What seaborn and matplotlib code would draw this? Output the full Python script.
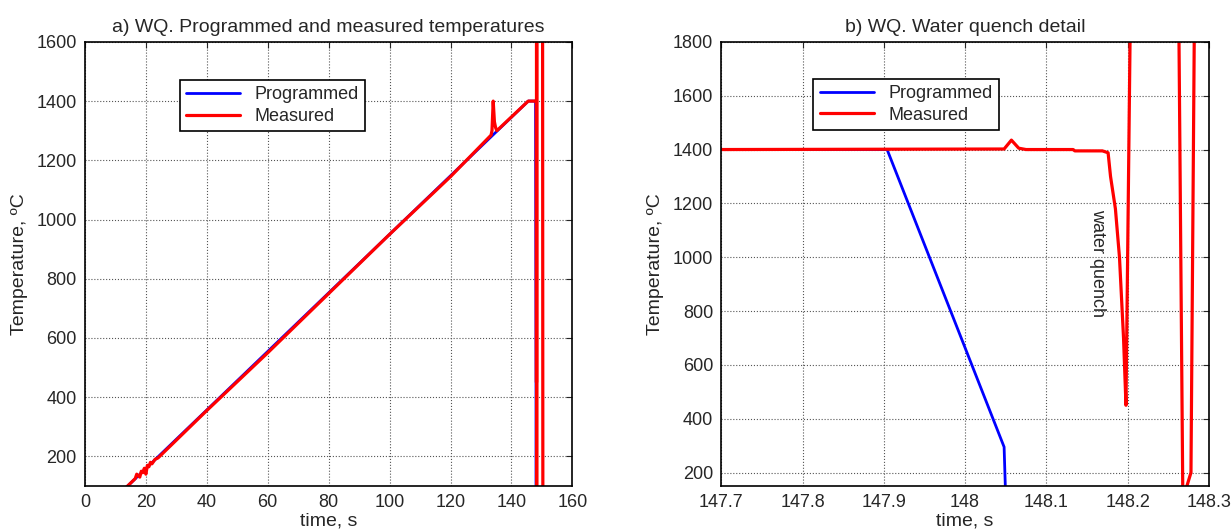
import numpy as np
import pandas as pd
import seaborn as sns
import matplotlib
matplotlib.use("Agg")
import matplotlib.pyplot as plt

# ---- panel a: full cycle ----
prog_a_t = [12, 145.5, 147.9, 148.05, 148.05]
prog_a_T = [80, 1400, 1400, 440, 50]

meas_a_t = [12, 15, 16.5, 17, 18, 18.5, 19, 19.5, 20, 20.5, 21, 21.5, 22, 23, 24,
            40, 60, 80, 100, 120, 133.3, 133.6, 134, 134.4, 134.8, 135.2, 145.5,
            148.18, 148.2, 148.21, 148.26, 148.27, 148.28, 150.2, 150.3]
meas_a_T = [80, 110, 125, 140, 130, 150, 145, 160, 140, 170, 165, 180, 175, 190, 195,
            355, 550, 750, 950, 1145, 1285, 1300, 1400, 1330, 1310, 1300, 1400,
            1400, 450, 1900, 1900, 100, 1900, 1900, 50]

# ---- panel b: water quench detail ----
prog_b_t = [147.7, 147.904, 148.048, 148.05]
prog_b_T = [1400, 1400, 295, 100]

meas_b_t = [147.7, 148.048, 148.057, 148.066, 148.075, 148.133, 148.135, 148.169,
            148.176, 148.179, 148.185, 148.19, 148.195, 148.198, 148.203, 148.205,
            148.263, 148.268, 148.273, 148.278, 148.282, 148.285]
meas_b_T = [1400, 1402, 1435, 1405, 1400, 1400, 1395, 1395,
            1388, 1300, 1180, 1000, 700, 450, 1800, 1900,
            1900, 100, 150, 200, 1800, 1900]

sns.set_style("white")
plt.rcParams['font.family'] = ['Liberation Sans', 'DejaVu Sans']
plt.rcParams['font.size'] = 13

fig = plt.figure(figsize=(12.31, 5.30), dpi=100)
ax1 = fig.add_axes([0.069, 0.083, 0.396, 0.838])
ax2 = fig.add_axes([0.586, 0.083, 0.396, 0.838])

for ax, pt, pT, mt, mT in [(ax1, prog_a_t, prog_a_T, meas_a_t, meas_a_T),
                           (ax2, prog_b_t, prog_b_T, meas_b_t, meas_b_T)]:
    sns.lineplot(x=pt, y=pT, sort=False, estimator=None, ax=ax,
                 color="#0000ff", lw=2, label="Programmed")
    sns.lineplot(x=mt, y=mT, sort=False, estimator=None, ax=ax,
                 color="#ff0000", lw=2.3, label="Measured")

ax1.set_xlim(0, 160)
ax1.set_ylim(100, 1600)
ax1.set_xticks(np.arange(0, 161, 20))
ax1.set_yticks(np.arange(200, 1601, 200))
ax1.set_title("a) WQ. Programmed and measured temperatures", fontsize=14, pad=7)

ax2.set_xlim(147.7, 148.3)
ax2.set_ylim(150, 1800)
ax2.set_xticks([147.7, 147.8, 147.9, 148.0, 148.1, 148.2, 148.3])
ax2.set_xticklabels(["147.7", "147.8", "147.9", "148", "148.1", "148.2", "148.3"])
ax2.set_yticks(np.arange(200, 1801, 200))
ax2.set_title("b) WQ. Water quench detail", fontsize=14, pad=7)
ax2.text(148.163, 978, "water quench", rotation=-90, ha="center", va="center", fontsize=13)

for ax, lx, ly in [(ax1, 0.195, 0.914), (ax2, 0.189, 0.917)]:
    ax.set_xlabel("time, s", fontsize=14, labelpad=1)
    ax.set_ylabel("Temperature, ºC", fontsize=14, labelpad=6)
    ax.grid(True, linestyle=":", color="#555555", lw=0.8)
    ax.tick_params(direction="in", top=True, right=True, length=4, labelsize=13, pad=6)
    for s in ax.spines.values():
        s.set_color("black")
        s.set_linewidth(1.2)
    leg = ax.legend(loc="upper left", bbox_to_anchor=(lx, ly), fancybox=False,
                    edgecolor="black", framealpha=1, fontsize=13, borderaxespad=0,
                    handlelength=3.0, borderpad=0.35, labelspacing=0.25)
    leg.get_frame().set_linewidth(1.2)

fig.savefig("out.png", dpi=100)
